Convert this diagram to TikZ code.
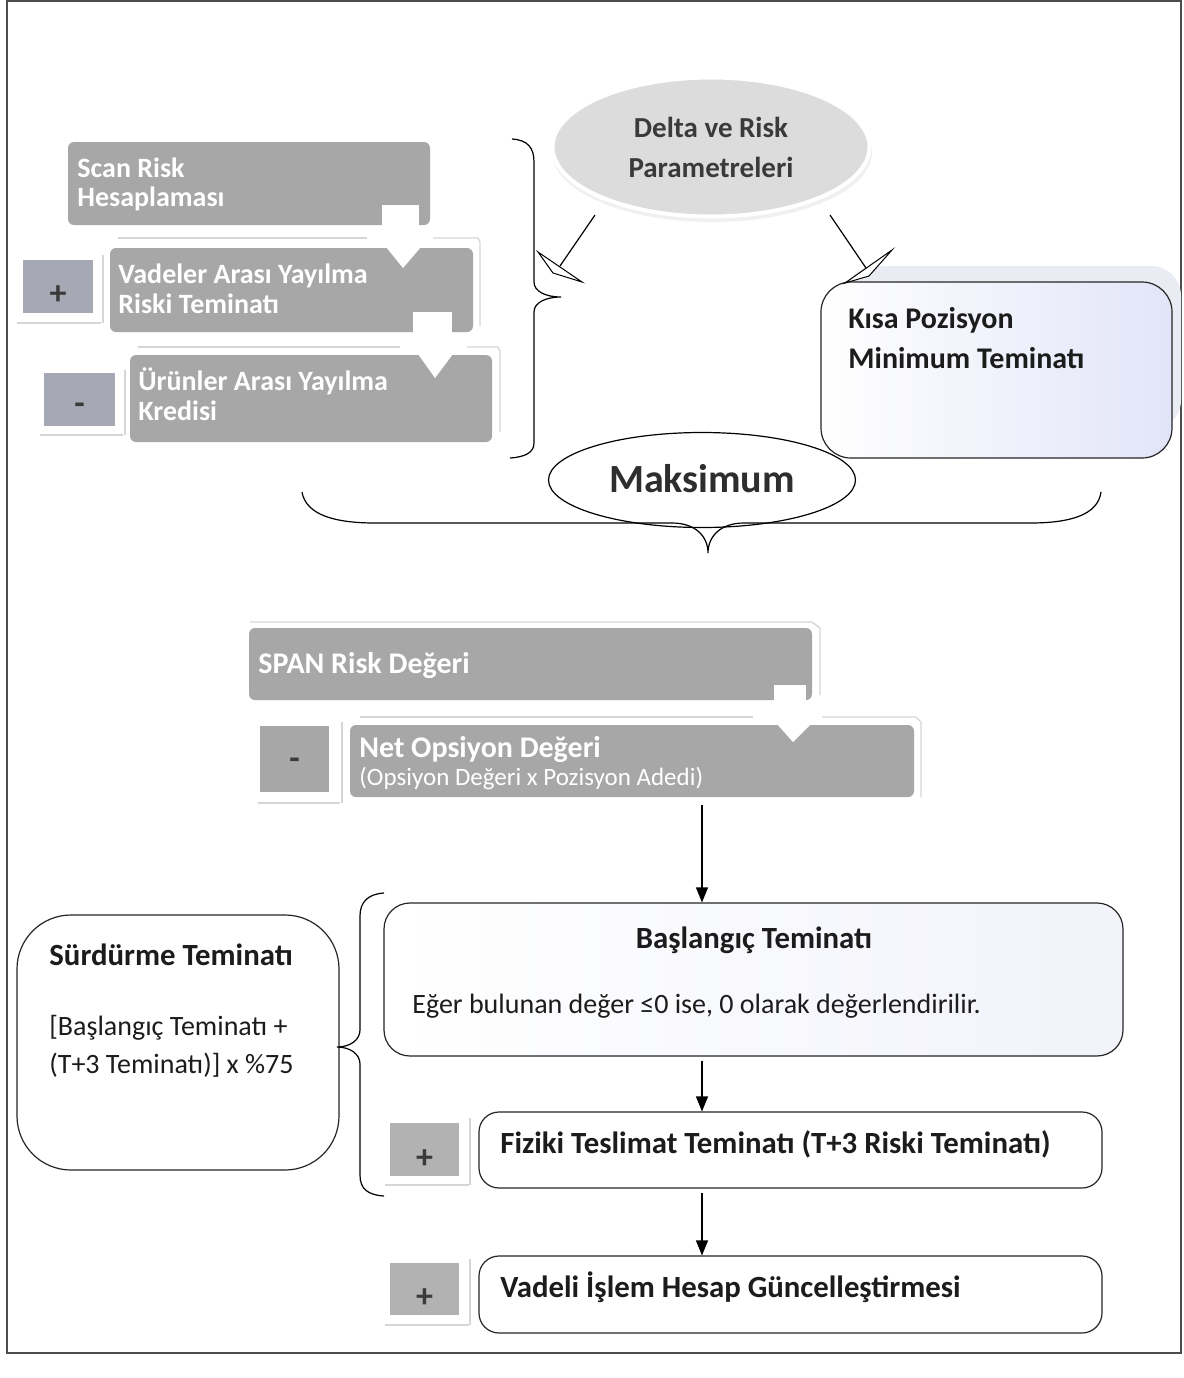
\documentclass[tikz,border=0pt]{standalone}
\usepackage{fontspec}
\setmainfont{Carlito}
\usetikzlibrary{shapes.geometric,arrows.meta,fit,calc}
\definecolor{boxgray}{RGB}{167,167,167}
\definecolor{sqgray}{RGB}{166,168,180}
\definecolor{sqgrayb}{RGB}{178,178,178}
\definecolor{ellgray}{RGB}{220,220,220}
\definecolor{rimgray}{RGB}{214,214,214}
\definecolor{txtdark}{RGB}{28,28,28}
\definecolor{txtmid}{RGB}{58,58,58}
\definecolor{lav}{RGB}{226,229,248}
\definecolor{lavpale}{RGB}{242,243,251}
\definecolor{shadowblue}{RGB}{234,236,244}
\begin{document}
\begin{tikzpicture}[x=0.5pt,y=-0.5pt,
  graybox/.style={fill=boxgray, rounded corners=3pt, inner sep=0pt, draw=none},
  sqbox/.style={fill=sqgray, inner sep=0pt, draw=none},
  sqboxb/.style={fill=sqgrayb, inner sep=0pt, draw=none},
  gtxt/.style={text=white, font=\fontsize{14pt}{16pt}\selectfont\bfseries, anchor=base west, inner sep=0pt},
  gsub/.style={text=white, font=\fontsize{12.5pt}{14pt}\selectfont, anchor=base west, inner sep=0pt},
  signtxt/.style={text=txtmid, font=\fontsize{17pt}{19pt}\selectfont\bfseries, inner sep=0pt},
  rim/.style={draw=rimgray, line width=0.7pt},
  notch/.style={fill=white, draw=none},
  wbox/.style={draw=black!85, line width=0.6pt, fill=white, inner sep=0pt},
  btxt/.style={font=\fontsize{15.4pt}{18pt}\selectfont\bfseries, text=txtdark, inner sep=0pt},
  rtxt/.style={font=\fontsize{14pt}{17pt}\selectfont, text=txtdark, inner sep=0pt, anchor=base west},
  arr/.style={-{Triangle[length=7.5pt,width=6pt]}, line width=0.6pt, black},
  bracestyle/.style={draw=black, line width=0.6pt},
  headstyle/.style={draw=black, line width=0.5pt, fill=white, line join=miter},
  framestyle/.style={draw=black!70, line width=0.9pt}
]
\useasboundingbox (0,0) rectangle (1184,1378);
\fill[white] (0,0) rectangle (1184,1378);
\draw[framestyle] (7,1) rectangle (1181,1353);

% ---------- upper left gray stack ----------
\node[graybox, fit={(68,142) (430,225)}] (scan) {};
\node[gtxt] (scant1) at (77,177) {Scan Risk};
\node[gtxt] (scant2) at (77,206) {Hesaplaması};

% rims box2
\draw[rim] (118,238) -- (367,238);
\draw[rim] (433,238) -- (478,238) -- (480,242) -- (480,326);
\draw[rim] (17,323) -- (101,323);
\draw[rim] (103,255) -- (103,323);
\node[graybox, fit={(110,248) (473,332)}] (vad) {};
\node[gtxt] (vadt1) at (118,283) {Vadeler Arası Yayılma};
\node[gtxt] (vadt2) at (118,313) {Riski Teminatı};
\node[sqbox, fit={(23,260) (93,313)}] (plus1) {};
\node[signtxt] (plus1t) at ([yshift=-4.5pt]plus1.center) {+};

% rims box3
\draw[rim] (138,347) -- (400,347);
\draw[rim] (467,347) -- (498,347) -- (500,351) -- (500,432);
\draw[rim] (40,435) -- (123,435);
\draw[rim] (125,370) -- (125,435);
\node[graybox, fit={(130,355) (492,442)}] (urun) {};
\node[gtxt] (urunt1) at (138,390) {Ürünler Arası Yayılma};
\node[gtxt] (urunt2) at (138,420) {Kredisi};
\node[sqbox, fit={(44,373) (115,426)}] (minus1) {};
\node[signtxt] (minus1t) at ([yshift=-4.5pt]minus1.center) {-};

% notches
\fill[notch] (382,205) rectangle (419,226);
\fill[notch] (386,247) -- (421,247) -- (403,268) -- cycle;
\fill[notch] (413,312) rectangle (452,333);
\fill[notch] (418,354) -- (453,354) -- (435,378) -- cycle;

% right brace of stack
\draw[bracestyle] (512,139) .. controls (528,140) and (534,148) .. (534,162)
  -- (534,282) .. controls (534,291) and (545,297) .. (561,297)
  .. controls (545,297) and (534,303) .. (534,312)
  -- (534,443) .. controls (534,452) and (526,457) .. (510,458);

% ---------- Delta ellipse ----------
\node[ellipse, fill=gray!12, draw=none, minimum width=160pt, minimum height=70pt, inner sep=0pt] (dshadow) at (712,152) {};
\node[ellipse, fill=ellgray, draw=white, line width=2pt, minimum width=158.5pt, minimum height=69.5pt, inner sep=0pt] (delta) at (711,147) {};
\node[font=\fontsize{14.5pt}{17pt}\selectfont\bfseries, text=txtmid, anchor=base, inner sep=0pt] (deltat1) at (711,137) {Delta ve Risk};
\node[font=\fontsize{14.5pt}{17pt}\selectfont\bfseries, text=txtmid, anchor=base, inner sep=0pt] (deltat2) at (711,177) {Parametreleri};

% ---------- Kisa Pozisyon box ----------
\fill[shadowblue, rounded corners=15pt] (845,266) rectangle (1181,430);
\node[draw=black!85, line width=0.6pt, rounded corners=15pt, left color=white, right color=lav, inner sep=0pt, fit={(821,282) (1172,458)}] (kisa) {};
\node[font=\fontsize{15pt}{18pt}\selectfont\bfseries, text=txtdark, anchor=base west, inner sep=0pt] (kisat1) at (848,328) {Kısa Pozisyon};
\node[font=\fontsize{15pt}{18pt}\selectfont\bfseries, text=txtdark, anchor=base west, inner sep=0pt] (kisat2) at (848,368) {Minimum Teminatı};

% arrows from Delta
\coordinate (la0) at (595,215);
\coordinate (la1) at (560,266);
\coordinate (ra0) at (830,215);
\coordinate (ra1) at (866,268);
\draw[line width=0.6pt] (la0) -- (la1);
\draw[line width=0.6pt] (ra0) -- (ra1);
\draw[headstyle] (538,252) -- (582,282) -- (553,273) -- cycle;
\draw[headstyle] (892,250) -- (845,283) -- (869,276) -- cycle;

% ---------- Maksimum ----------
\node[ellipse, draw=black, line width=0.6pt, fill=white, minimum width=153.5pt, minimum height=47.5pt, inner sep=0pt] (maks) at (702,480) {};
\node[font=\fontsize{20pt}{22pt}\selectfont\bfseries, text=black!82, anchor=base, inner sep=0pt] (makst) at (702,492) {Maksimum};

% big bottom brace
\draw[bracestyle] (302,492) .. controls (306,515) and (335,523) .. (375,523)
  -- (672,523) .. controls (695,523) and (708,536) .. (708,553)
  .. controls (708,536) and (721,523) .. (744,523)
  -- (1030,523) .. controls (1070,523) and (1098,515) .. (1101,492);

% ---------- SPAN / Net ----------
\draw[rim] (250,622) -- (812,622) -- (820,628) -- (820,695);
\node[graybox, fit={(249,628) (812,700)}] (span) {};
\node[gtxt, font=\fontsize{15pt}{18pt}\selectfont\bfseries] (spant) at (258,673) {SPAN Risk Değeri};

\draw[rim] (360,717) -- (753,717);
\draw[rim] (822,717) -- (916,717) -- (921,722) -- (921,797);
\draw[rim] (258,803) -- (340,803);
\draw[rim] (342,722) -- (342,803);
\node[graybox, fit={(350,725) (914,797)}] (net) {};
\node[gtxt, font=\fontsize{15pt}{18pt}\selectfont\bfseries] (nett1) at (359,757) {Net Opsiyon Değeri};
\node[gsub] (nett2) at (359,785) {(Opsiyon Değeri x Pozisyon Adedi)};
\node[sqboxb, fill=boxgray, fit={(260,726) (329,792)}] (minus2) {};
\node[signtxt] (minus2t) at ([yshift=-2.5pt]minus2.center) {-};
\fill[notch] (774,685) rectangle (806,701);
\fill[notch] (777,724) -- (811,724) -- (793,742) -- cycle;

% ---------- lower flow ----------
\coordinate (axis) at (702,0);
\node[wbox, rounded corners=13pt, left color=white, right color=lavpale, fit={(384,903) (1123,1056)}] (bas) {};
\node[btxt, anchor=base] (bast1) at (754,948) {Başlangıç Teminatı};
\node[rtxt] (bast2) at (412,1013) {Eğer bulunan değer ≤0 ise, 0 olarak değerlendirilir.};

\node[wbox, rounded corners=10pt, fit={(479,1112) (1102,1188)}] (fiz) {};
\node[btxt, anchor=base west] (fizt) at (500,1153) {Fiziki Teslimat Teminatı (T+3 Riski Teminatı)};
\draw[rim] (385,1185) -- (469,1185);
\draw[rim] (470,1118) -- (470,1185);
\node[sqboxb, fit={(390,1123) (459,1176)}] (plus2) {};
\node[signtxt] (plus2t) at ([yshift=-5pt]plus2.center) {+};

\node[wbox, rounded corners=10pt, fit={(479,1256) (1102,1333)}] (vade) {};
\node[btxt, anchor=base west] (vadet) at (500,1297) {Vadeli İşlem Hesap Güncelleştirmesi};
\draw[rim] (385,1325) -- (469,1325);
\draw[rim] (470,1259) -- (470,1325);
\node[sqboxb, fit={(390,1263) (459,1315)}] (plus3) {};
\node[signtxt] (plus3t) at ([yshift=-4.5pt]plus3.center) {+};

\draw[arr] ([yshift=-4pt]axis |- net.south) -- (axis |- bas.north);
\draw[arr] ([yshift=-2pt]axis |- bas.south) -- (axis |- fiz.north);
\draw[arr] ([yshift=-2pt]axis |- fiz.south) -- (axis |- vade.north);

% ---------- Surdurme ----------
\node[wbox, rounded corners=27pt, fit={(17,915) (339,1170)}] (surd) {};
\node[btxt, anchor=base west] (surdt1) at (49,965) {Sürdürme Teminatı};
\node[rtxt] (surdt2) at (49,1035) {[Başlangıç Teminatı +};
\node[rtxt] (surdt3) at (49,1073) {(T+3 Teminatı)] x \%75};

\draw[bracestyle] (384,893) .. controls (368,894) and (360,902) .. (360,916)
  -- (360,1030) .. controls (360,1040) and (350,1047) .. (337,1047)
  .. controls (350,1047) and (360,1054) .. (360,1064)
  -- (360,1175) .. controls (360,1189) and (368,1195) .. (384,1196);

\end{tikzpicture}
\end{document}
